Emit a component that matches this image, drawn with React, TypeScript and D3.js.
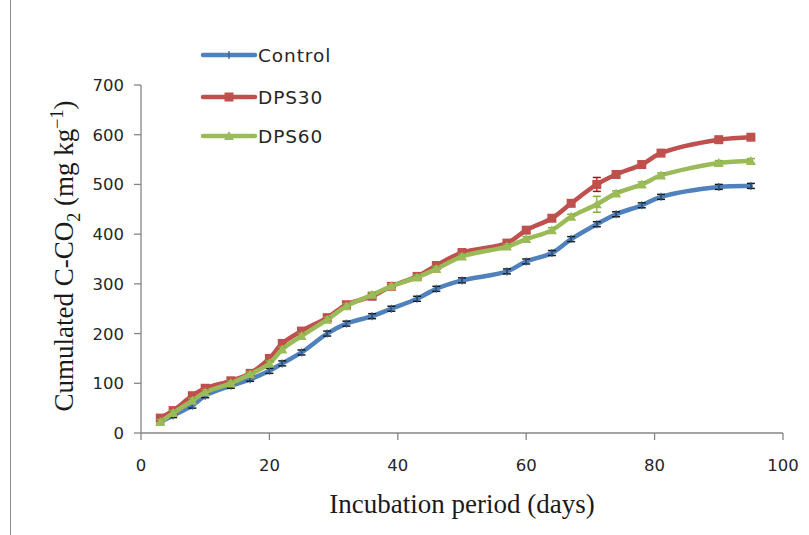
import React from "react";
import * as d3 from "d3";

const days = [3, 5, 8, 10, 14, 17, 20, 22, 25, 29, 32, 36, 39, 43, 46, 50, 57, 60, 64, 67, 71, 74, 78, 81, 90, 95];
const control = [22, 35, 55, 75, 95, 108, 125, 140, 162, 200, 220, 235, 250, 270, 290, 307, 325, 345, 362, 390, 420, 440, 458, 475, 495, 497];
const dps30 = [30, 45, 75, 90, 105, 120, 150, 180, 205, 232, 258, 275, 295, 315, 337, 363, 382, 408, 432, 462, 500, 520, 540, 563, 590, 595];
const dps60 = [22, 40, 65, 82, 100, 118, 140, 168, 195, 228, 255, 278, 295, 313, 330, 355, 375, 390, 408, 435, 460, 482, 500, 518, 543, 547];
const controlErr = [4, 4, 5, 4, 5, 4, 5, 5, 5, 5, 5, 5, 5, 5, 5, 5, 5, 5, 5, 5, 5, 5, 5, 5, 5, 5];
const dps30Err = [6, 6, 6, 6, 6, 6, 6, 6, 6, 6, 6, 6, 6, 6, 6, 6, 6, 6, 6, 6, 14, 6, 6, 6, 6, 6];
const dps60Err = [5, 5, 5, 5, 5, 5, 5, 5, 5, 5, 5, 5, 5, 5, 5, 5, 5, 5, 5, 5, 16, 5, 5, 5, 5, 5];
const seriesNames = ["Control", "DPS30", "DPS60"];
const xTicks = [0, 20, 40, 60, 80, 100];
const yTicks = [0, 100, 200, 300, 400, 500, 600, 700];

const colors = ["#4F81BD", "#C0504D", "#9BBB59"];
const errColors = ["#1a1a1a", "#C00000", "#7FAF3F"];

export default function App() {
  const x = d3.scaleLinear().domain([0, 100]).range([141, 783]);
  const y = d3.scaleLinear().domain([0, 700]).range([433, 85]);
  const seriesVals = [control, dps30, dps60];
  const seriesErr = [controlErr, dps30Err, dps60Err];
  const line = d3
    .line<[number, number]>()
    .x((d) => x(d[0]))
    .y((d) => y(d[1]))
    .curve(d3.curveCatmullRom.alpha(0.5));

  const axisColor = "#868686";
  const tickFont = "'DejaVu Sans', Verdana, sans-serif";
  const serif = "'Liberation Serif', 'Times New Roman', serif";

  const marker = (i: number, cx: number, cy: number, key: string) => {
    if (i === 0) {
      return (
        <g key={key}>
          <line x1={cx} x2={cx} y1={cy - 4} y2={cy + 4} stroke="#2E5C8F" strokeWidth={1.2} />
        </g>
      );
    }
    if (i === 1) {
      return <rect key={key} x={cx - 4.5} y={cy - 4.5} width={9} height={9} fill={colors[1]} />;
    }
    return (
      <path
        key={key}
        d={`M${cx},${cy - 5} L${cx + 5},${cy + 4} L${cx - 5},${cy + 4} Z`}
        fill={colors[2]}
      />
    );
  };

  const legendY = [55, 97, 136];

  return (
    <svg
      width={809}
      height={535}
      style={{ position: "absolute", left: 0, top: 0, background: "#fff" }}
    >
      <line x1={10.5} x2={10.5} y1={0} y2={535} stroke="#8c8c8c" strokeWidth={1} />

      {/* axes */}
      <line x1={141} x2={141} y1={y(700)} y2={y(0)} stroke={axisColor} strokeWidth={1.3} />
      <line x1={141} x2={x(100)} y1={y(0)} y2={y(0)} stroke={axisColor} strokeWidth={1.3} />
      {yTicks.map((t) => (
        <g key={"yt" + t}>
          <line x1={134} x2={141} y1={y(t)} y2={y(t)} stroke={axisColor} strokeWidth={1.3} />
          <text
            x={124}
            y={y(t)}
            dy="0.36em"
            textAnchor="end"
            fontFamily={tickFont}
            fontSize={16.5}
            fill="#262626"
          >
            {t}
          </text>
        </g>
      ))}
      {xTicks.map((t) => (
        <g key={"xt" + t}>
          <line x1={x(t)} x2={x(t)} y1={y(0)} y2={y(0) + 7} stroke={axisColor} strokeWidth={1.3} />
          <text
            x={x(t)}
            y={471}
            textAnchor="middle"
            fontFamily={tickFont}
            fontSize={16.5}
            fill="#262626"
          >
            {t}
          </text>
        </g>
      ))}

      {/* axis titles */}
      <text
        x={462}
        y={513}
        textAnchor="middle"
        fontFamily={serif}
        fontSize={27}
        fill="#1a1a1a"
      >
        Incubation period (days)
      </text>
      <text
        transform={`translate(73, 256) rotate(-90)`}
        textAnchor="middle"
        fontFamily={serif}
        fontSize={27}
        fill="#1a1a1a"
      >
        Cumulated C-CO
        <tspan dy="7" fontSize={18}>2</tspan>
        <tspan dy="-7"> (mg kg</tspan>
        <tspan dy="-10" fontSize={18}>−1</tspan>
        <tspan dy="10">)</tspan>
      </text>

      {/* series */}
      {seriesVals.map((vals, i) => {
        const pts: [number, number][] = days.map((d, k) => [d, vals[k]]);
        return (
          <g key={"s" + i}>
            <path d={line(pts) || ""} fill="none" stroke={colors[i]} strokeWidth={4.5} strokeLinejoin="round" strokeLinecap="round" />
            {pts.map((p, k) => {
              const cx = x(p[0]);
              const e = seriesErr[i][k];
              return (
                <g key={"e" + i + "-" + k}>
                  <line x1={cx} x2={cx} y1={y(p[1] + e)} y2={y(p[1] - e)} stroke={errColors[i]} strokeWidth={1.2} />
                  <line x1={cx - 4} x2={cx + 4} y1={y(p[1] + e)} y2={y(p[1] + e)} stroke={errColors[i]} strokeWidth={1.5} />
                  <line x1={cx - 4} x2={cx + 4} y1={y(p[1] - e)} y2={y(p[1] - e)} stroke={errColors[i]} strokeWidth={1.5} />
                </g>
              );
            })}
            {pts.map((p, k) => marker(i, x(p[0]), y(p[1]), "m" + i + "-" + k))}
          </g>
        );
      })}

      {/* legend */}
      {seriesNames.map((n, i) => (
        <g key={"lg" + i}>
          <line x1={203} x2={255} y1={legendY[i]} y2={legendY[i]} stroke={colors[i]} strokeWidth={4.5} strokeLinecap="round" />
          {marker(i, 229, legendY[i], "lm" + i)}
          <text
            x={258}
            y={legendY[i]}
            dy="0.36em"
            fontFamily={tickFont}
            fontSize={18.5}
            letterSpacing={0.9}
            fill="#262626"
          >
            {n}
          </text>
        </g>
      ))}
    </svg>
  );
}
